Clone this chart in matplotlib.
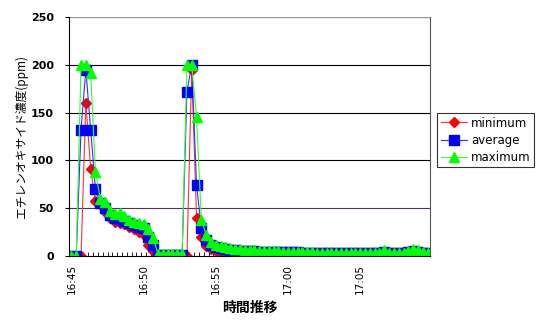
import numpy as np
import matplotlib.pyplot as plt
from matplotlib.ticker import FixedLocator, NullFormatter

plt.rcParams['font.family'] = ['DejaVu Sans', 'Noto Sans CJK JP']

# 20秒間隔の測定 (16:45:00 - 17:09:40)
n_points = 75
minimum = [0, 0, 0, 160, 91, 58, 54, 46, 40, 36, 35, 33, 30, 28, 25, 22, 11, 5,
           0, 0, 0, 0, 0, 0, 0, 195, 40, 20, 10, 7, 5, 4, 3, 3, 2, 2, 2, 2,
           2, 2, 1, 1, 1, 1, 1, 1, 1, 1, 1, 1, 1, 1, 1, 1, 1, 1, 1, 1, 1, 1,
           1, 1, 1, 1, 1, 1, 1, 1, 1, 1, 0, 0, 0, 1, 1]
average = [0, 0, 132, 195, 132, 70, 55, 50, 43, 40, 39, 37, 34, 32, 30, 29, 20, 11,
           1, 1, 1, 1, 1, 1, 172, 200, 74, 29, 17, 12, 9, 8, 7, 6, 6, 5, 5, 5,
           5, 4, 4, 4, 4, 4, 4, 4, 4, 4, 3, 3, 3, 3, 3, 3, 3, 3, 3, 3, 3, 3,
           3, 3, 3, 3, 3, 4, 3, 3, 3, 3, 4, 5, 4, 3, 3]
maximum = [0, 0, 200, 200, 191, 88, 60, 57, 47, 44, 45, 42, 38, 36, 34, 33, 28, 19,
           2, 2, 2, 2, 2, 2, 200, 200, 145, 38, 22, 15, 12, 10, 9, 8, 7, 7, 6, 6,
           6, 5, 5, 5, 5, 5, 4, 4, 4, 4, 4, 4, 4, 3, 3, 3, 3, 3, 3, 3, 3, 3,
           3, 3, 3, 3, 3, 6, 3, 3, 3, 3, 5, 7, 6, 4, 3]
tick_labels = ['16:45', '16:50', '16:55', '17:00', '17:05']
label_step = 15

x = np.arange(n_points)

fig = plt.figure(figsize=(5.38, 3.25), dpi=100)
ax = fig.add_axes([69 / 538, 1 - 256 / 325, 361 / 538, 239 / 325])

ax.plot(x, minimum, color='#ff3030', lw=0.8, marker='D', ms=5.5,
        mfc='#ff0000', mec='#ff0000', label='minimum')
ax.plot(x, average, color='#3030ff', lw=0.8, marker='s', ms=6.5,
        mfc='#0000ff', mec='#0000ff', label='average')
ax.plot(x, maximum, color='#30ff30', lw=0.8, marker='^', ms=7.5,
        mfc='#00ff00', mec='#00ff00', label='maximum')

ax.set_xlim(-0.5, n_points - 0.5)
ax.set_ylim(0, 250)
ax.set_yticks(range(0, 251, 50))
ax.set_xticks(np.arange(0, n_points, label_step)[:len(tick_labels)])
ax.set_xticklabels(tick_labels, rotation=90, fontsize=7.5)
ax.xaxis.set_minor_locator(FixedLocator(np.arange(-0.5, n_points, 1)))
ax.xaxis.set_minor_formatter(NullFormatter())
ax.tick_params(axis='x', which='major', length=0, pad=6)
ax.tick_params(axis='x', which='minor', direction='in', length=3, width=0.6)
ax.tick_params(axis='y', length=3, width=0.8, pad=8)
for t in ax.get_yticklabels():
    t.set_fontweight('bold')
    t.set_fontsize(8)

for v in [100, 150, 200]:
    ax.axhline(v, color='black', lw=0.8, zorder=0)
ax.axhline(50, color='#503060', lw=0.8, zorder=0)
ax.axhline(250, color='#999999', lw=1, zorder=0)

ax.spines['top'].set_visible(False)
ax.spines['right'].set_color('#555555')
ax.spines['left'].set_color('black')
ax.spines['bottom'].set_color('black')

ax.set_ylabel('エチレンオキサイド濃度(ppm)', family=['Noto Sans CJK JP', 'DejaVu Sans'],
              fontsize=8.5, labelpad=2)
ax.set_xlabel('時間推移', family=['Noto Sans CJK JP', 'DejaVu Sans'],
              fontsize=10, fontweight='bold', labelpad=5)

leg = ax.legend(loc='upper left', bbox_to_anchor=(437 / 538, 1 - 113 / 325),
                bbox_transform=fig.transFigure, frameon=True, fancybox=False,
                fontsize=8.5, handlelength=2.2, handletextpad=0.4,
                borderpad=0.3, labelspacing=0.35, borderaxespad=0)
leg.get_frame().set_edgecolor('black')
leg.get_frame().set_linewidth(0.8)

fig.savefig('out.png', dpi=100)
